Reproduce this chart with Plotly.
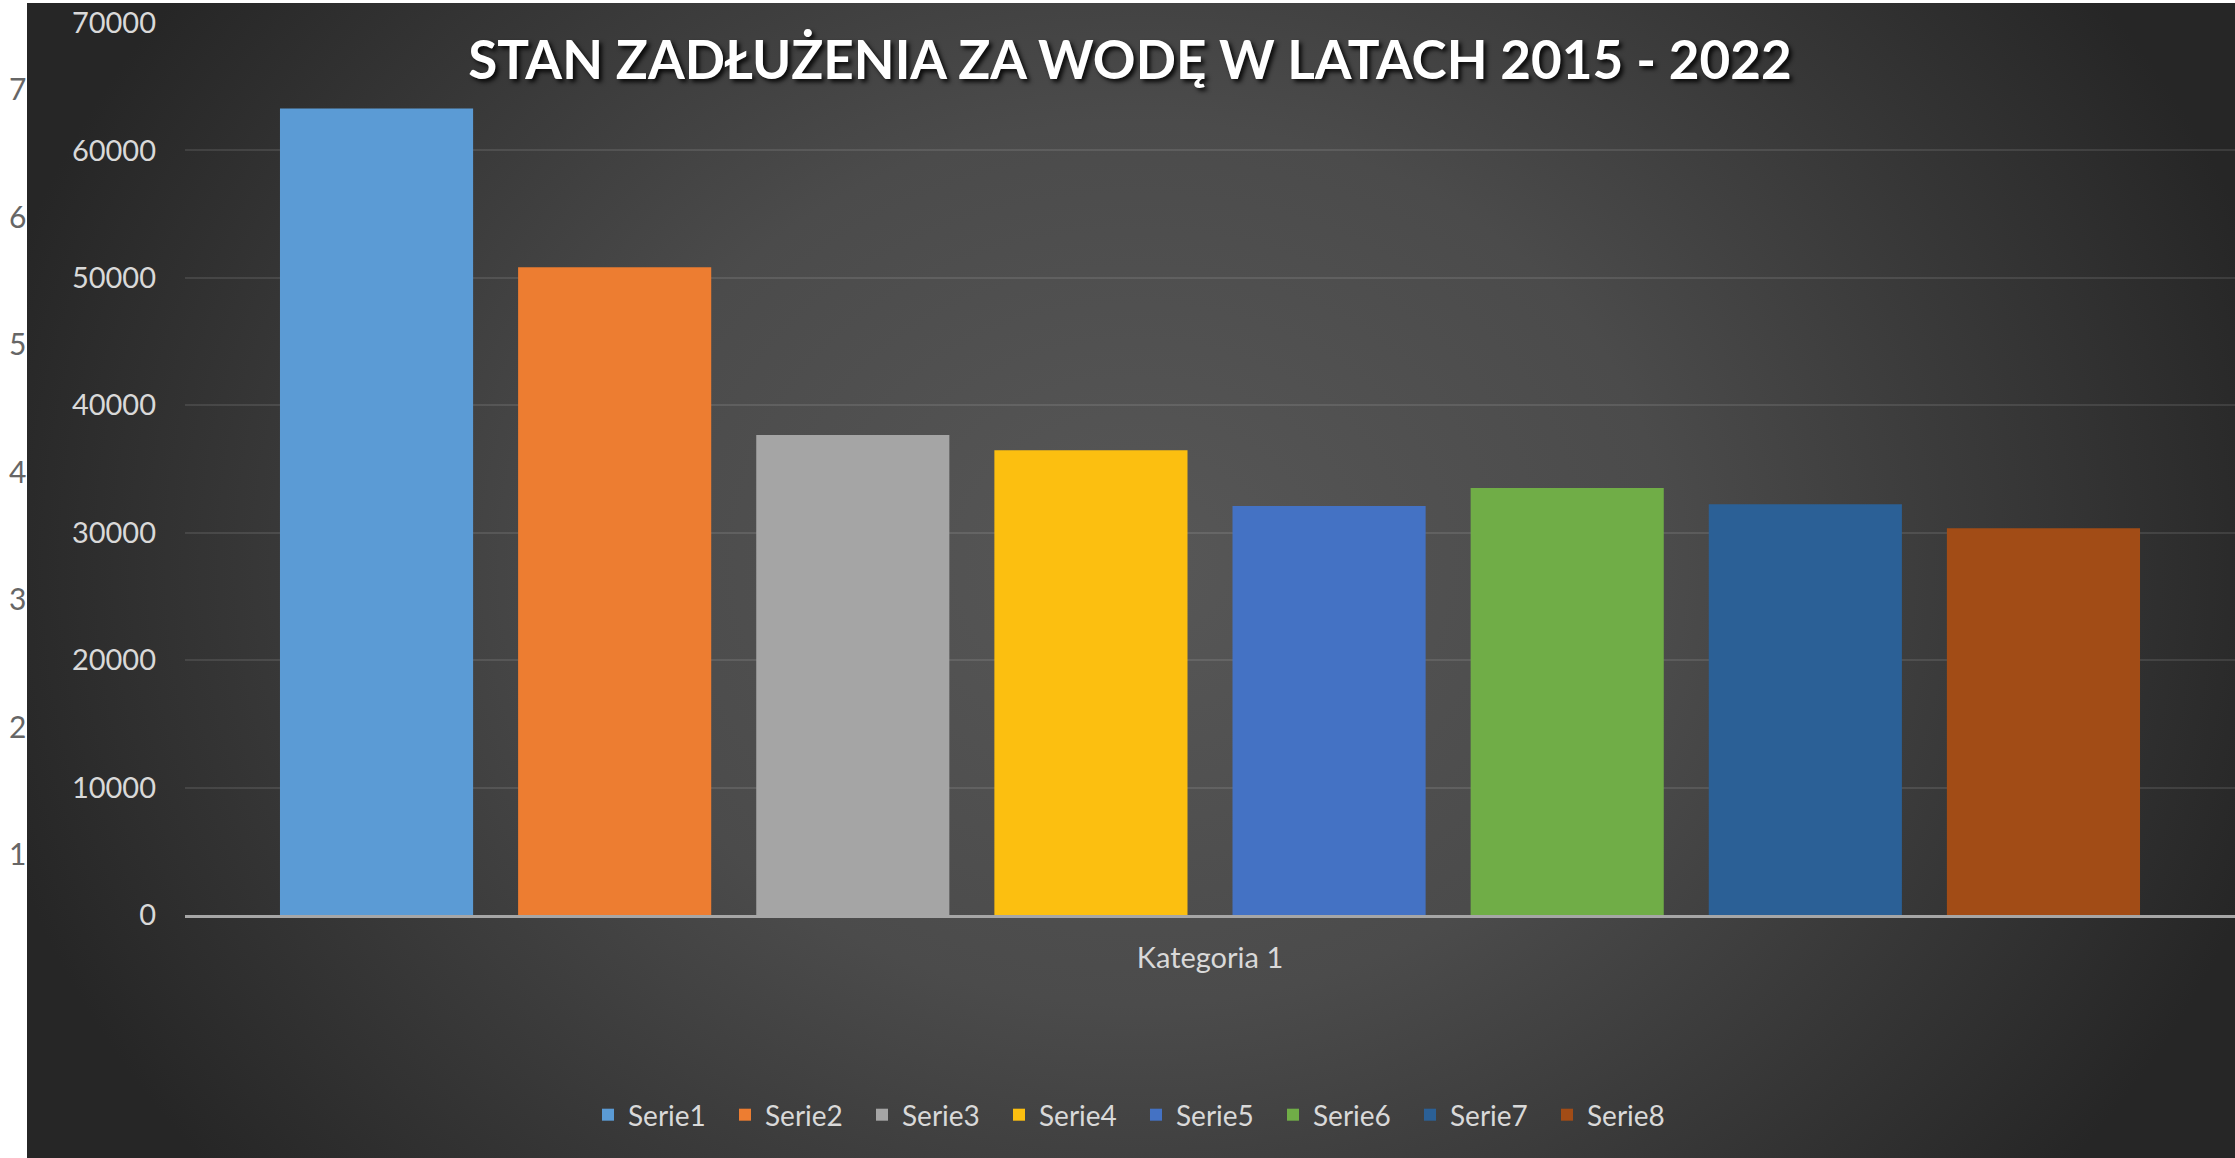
import base64
import plotly.graph_objects as go

# ---------------- data ----------------
categories = ["Kategoria 1"]
series_names = ["Serie1", "Serie2", "Serie3", "Serie4", "Serie5", "Serie6", "Serie7", "Serie8"]
series_values = [63300, 50840, 37660, 36480, 32090, 33500, 32240, 30360]
series_colors = ["#5b9bd5", "#ed7d31", "#a5a5a5", "#fcbf10", "#4472c4", "#70ad47", "#2b6096", "#a24c16"]
y_ticks = [0, 10000, 20000, 30000, 40000, 50000, 60000, 70000]
ghost_labels = ["7", "6", "5", "4", "3", "2", "1"]
title_text = "STAN ZADŁUŻENIA ZA WODĘ W LATACH 2015 - 2022"

# ---------------- geometry ----------------
W, H = 2235, 1158
ML, MR, MT, MB = 185, 0, 23, 243
PW, PH = W - ML - MR, H - MT - MB


def px_to_paper_x(px):
    return (px - ML) / PW


def px_to_paper_y(py):
    return (H - MB - py) / PH


# background panel: radial gradient (svg)
panel_x0, panel_y0 = 27, 3
panel_w, panel_h = W - panel_x0, H - panel_y0
svg = f'''<svg xmlns="http://www.w3.org/2000/svg" width="{panel_w}" height="{panel_h}" viewBox="0 0 {panel_w} {panel_h}">
<defs><radialGradient id="g" gradientUnits="userSpaceOnUse" cx="0" cy="0" r="1"
 gradientTransform="translate(1110,560) scale(1180,980)">
<stop offset="0" stop-color="#575757"/>
<stop offset="0.45" stop-color="#4b4b4b"/>
<stop offset="1" stop-color="#262626"/>
</radialGradient></defs>
<rect x="0" y="0" width="{panel_w}" height="{panel_h}" fill="url(#g)"/>
</svg>'''
svg_uri = "data:image/svg+xml;base64," + base64.b64encode(svg.encode()).decode()

font_family = "Lato, 'Open Sans', sans-serif"

fig = go.Figure()
for name, val, col in zip(series_names, series_values, series_colors):
    fig.add_trace(go.Bar(
        x=categories, y=[val], name=name,
        marker=dict(color=col, line=dict(width=0)),
        hoverinfo="name+y",
    ))

annotations = []
for i, lab in enumerate(ghost_labels):
    annotations.append(dict(
        text=lab, xref="paper", yref="paper",
        x=px_to_paper_x(28), y=px_to_paper_y(88 + i * 127.5),
        xanchor="right", yanchor="middle", showarrow=False,
        font=dict(family=font_family, size=30, color="#666666"),
    ))

fig.update_layout(
    width=W, height=H,
    margin=dict(l=ML, r=MR, t=MT, b=MB, autoexpand=False),
    paper_bgcolor="#ffffff",
    plot_bgcolor="rgba(0,0,0,0)",
    barmode="group",
    bargap=0.0707,
    bargroupgap=0.189,
    title=dict(
        text=title_text,
        font=dict(family=font_family, size=53, color="#ffffff", weight="bold",
                  shadow="3px 3px 4px rgba(0,0,0,0.85)"),
        xref="paper", x=px_to_paper_x(1130), xanchor="center",
        yref="container", y=1 - 60 / H, yanchor="middle",
    ),
    xaxis=dict(
        type="category", range=[-0.5, 0.5],
        showgrid=False, zeroline=False,
        showline=True, linecolor="#a6a6a6", linewidth=2.5,
        ticks="", ticklabelstandoff=15,
        tickfont=dict(family=font_family, size=29, color="#d9d9d9"),
        layer="above traces", fixedrange=True,
    ),
    yaxis=dict(
        range=[0, 70000], tickvals=y_ticks, tickformat="d",
        showgrid=True, gridcolor="rgba(255,255,255,0.10)", gridwidth=2,
        zeroline=False, showline=False, ticks="",
        ticklabelstandoff=28,
        tickfont=dict(family=font_family, size=29, color="#d9d9d9"),
        fixedrange=True,
    ),
    legend=dict(
        orientation="h",
        x=px_to_paper_x(1136), xanchor="center",
        y=px_to_paper_y(1115), yanchor="middle",
        font=dict(family=font_family, size=28, color="#d9d9d9"),
        bgcolor="rgba(0,0,0,0)",
        entrywidth=92, entrywidthmode="pixels",
        traceorder="normal",
    ),
    images=[dict(
        source=svg_uri, xref="paper", yref="paper",
        x=px_to_paper_x(panel_x0), y=px_to_paper_y(panel_y0),
        sizex=panel_w / PW, sizey=panel_h / PH,
        xanchor="left", yanchor="top", sizing="stretch", layer="below",
    )],
    annotations=annotations,
    showlegend=True,
)

fig.write_html("out.html", config={"displayModeBar": False},
               post_script="document.body.style.margin='0';")
